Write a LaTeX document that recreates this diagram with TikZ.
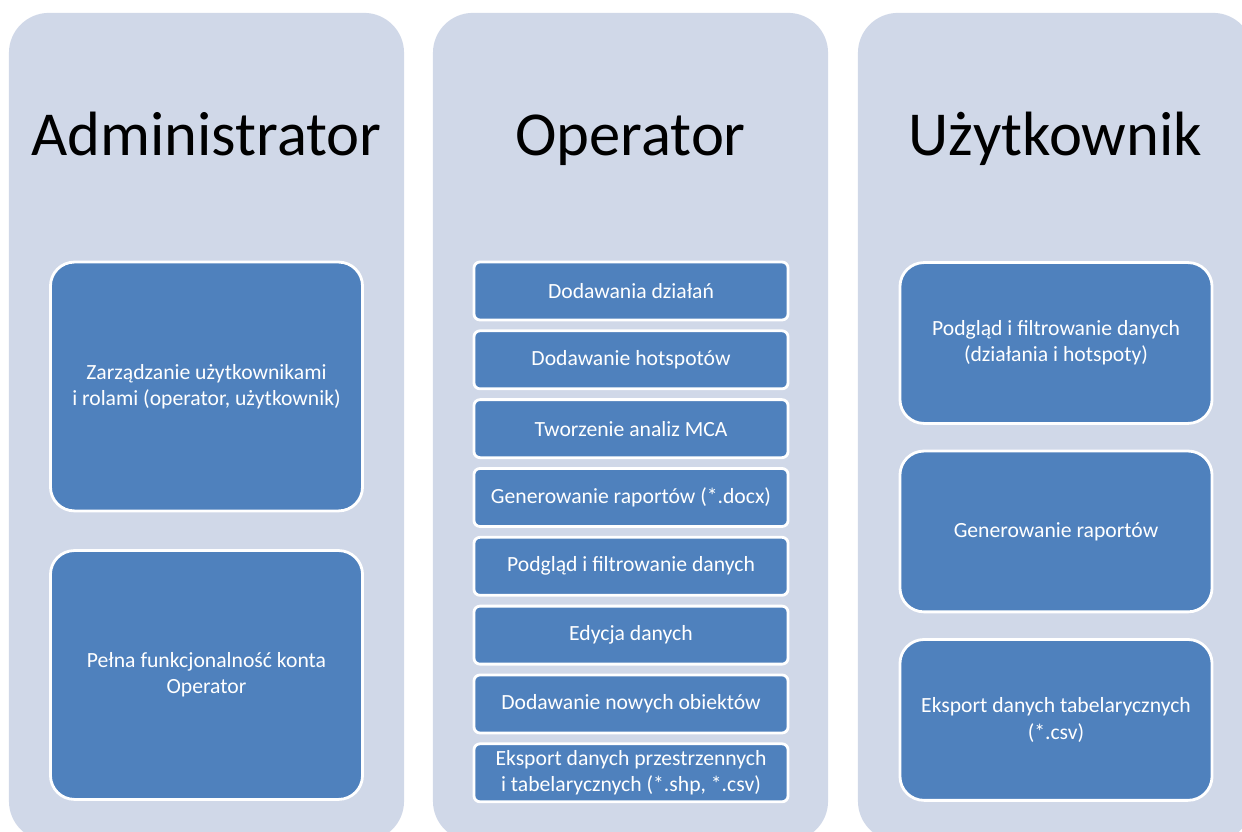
\documentclass[tikz,border=0pt]{standalone}
\usepackage{fontspec}
\setmainfont{Carlito}
\usetikzlibrary{positioning}
\definecolor{colfill}{HTML}{D0D8E8}
\definecolor{itemfill}{HTML}{4F81BD}
\tikzset{
    column/.style={
        fill=colfill,
        rounded corners=1cm,
        minimum width=9.875cm,
        minimum height=20.7cm
    },
    roletitle/.style={
        font=\fontsize{44.5}{50}\selectfont,
        text=black
    },
    bigitem/.style={
        draw=white,
        fill=itemfill,
        line width=2pt,
        rounded corners=0.6cm,
        minimum width=7.8cm,
        align=center,
        text=white,
        font=\fontsize{15.4}{18.6}\selectfont
    },
    item/.style={
        draw=white,
        fill=itemfill,
        line width=2pt,
        rounded corners=0.15cm,
        minimum width=7.85cm,
        minimum height=1.45cm,
        align=center,
        text=white,
        font=\fontsize{15.4}{18.6}\selectfont
    }
}
\begin{document}
\begin{tikzpicture}[x=0.025cm, y=-0.025cm, node distance=0.2cm]
\clip (0,0) rectangle (1242,832);
\fill[white] (0,0) rectangle (1242,832);

% columns
\node[column] (admcol) at (206.5,427) {};
\node[column] (opcol) at (630.5,427) {};
\node[column] (usrcol) at (1055.5,427) {};

\node[roletitle, anchor=base] (admtitle) at (206.5,156) {Administrator};
\node[roletitle, anchor=base] (optitle) at (630.5,156) {Operator};
\node[roletitle, anchor=base] (usrtitle) at (1055.5,156) {Użytkownik};

% Administrator
\node[bigitem, minimum height=6.22cm] (adm1) at (206.5,386.5) {Zarządzanie użytkownikami\\i rolami (operator, użytkownik)};
\node[bigitem, minimum height=6.22cm, below=0.92cm of adm1] (adm2) {Pełna funkcjonalność konta\\Operator};

% Operator
\node[item] (op1) at (631,291) {Dodawania działań};
\node[item, below=of op1] (op2) {Dodawanie hotspotów};
\node[item, below=of op2] (op3) {Tworzenie analiz MCA};
\node[item, below=of op3] (op4) {Generowanie raportów (*.docx)};
\node[item, below=of op4] (op5) {Podgląd i filtrowanie danych};
\node[item, below=of op5] (op6) {Edycja danych};
\node[item, below=of op6] (op7) {Dodawanie nowych obiektów};
\node[item, below=of op7] (op8) {Eksport danych przestrzennych\\i tabelarycznych (*.shp, *.csv)};

% Użytkownik
\node[bigitem, minimum height=4.02cm] (usr1) at (1056,343) {Podgląd i filtrowanie danych\\(działania i hotspoty)};
\node[bigitem, minimum height=4.02cm, below=0.62cm of usr1] (usr2) {Generowanie raportów};
\node[bigitem, minimum height=4.02cm, below=0.62cm of usr2] (usr3) {Eksport danych tabelarycznych\\(*.csv)};
\end{tikzpicture}
\end{document}
